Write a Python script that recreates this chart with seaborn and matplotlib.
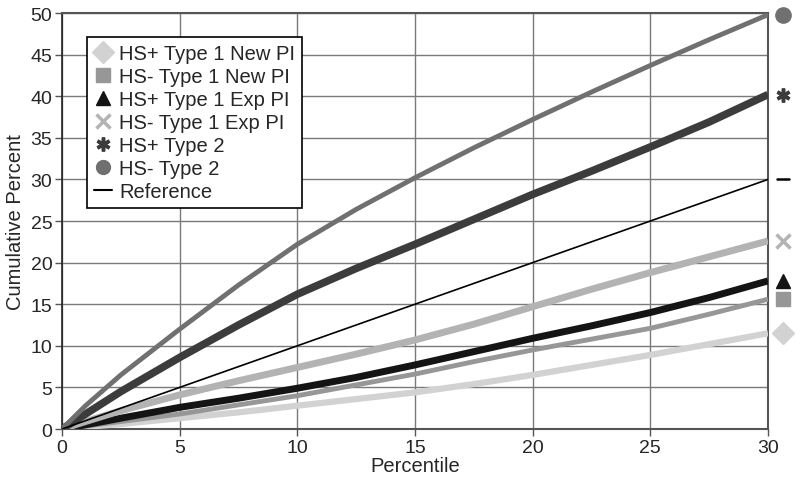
import pandas as pd
import seaborn as sns
import matplotlib.pyplot as plt
from matplotlib.lines import Line2D

# Curvas acumuladas
percentil = [0, 1, 2.5, 5, 7.5, 10, 12.5, 15, 17.5, 20, 22.5, 25, 27.5, 30]

hs_pos_t1_new = [0, 0.25, 0.6, 1.3, 2.0, 2.8, 3.6, 4.4, 5.4, 6.5, 7.7, 8.9, 10.2, 11.5]
hs_neg_t1_new = [0, 0.35, 0.9, 1.8, 2.9, 4.0, 5.3, 6.6, 8.1, 9.5, 10.8, 12.1, 13.8, 15.6]
hs_pos_t1_exp = [0, 0.5, 1.3, 2.6, 3.7, 4.9, 6.2, 7.7, 9.3, 10.9, 12.4, 14.0, 15.8, 17.8]
hs_neg_t1_exp = [0, 0.9, 2.2, 4.1, 5.8, 7.4, 9.0, 10.7, 12.6, 14.7, 16.8, 18.8, 20.7, 22.6]
hs_pos_t2 = [0, 1.8, 4.5, 8.6, 12.5, 16.2, 19.3, 22.2, 25.2, 28.2, 31.0, 33.9, 36.9, 40.2]
hs_neg_t2 = [0, 2.8, 6.5, 12.0, 17.3, 22.2, 26.4, 30.2, 33.8, 37.2, 40.5, 43.7, 46.8, 49.8]
referencia = [0, 1, 2.5, 5, 7.5, 10, 12.5, 15, 17.5, 20, 22.5, 25, 27.5, 30]

series = [
    # etiqueta, valores, color, grosor, marcador
    ('HS+ Type 1 New PI', hs_pos_t1_new, '#d2d2d2', 4.5, 'D'),
    ('HS- Type 1 New PI', hs_neg_t1_new, '#979797', 3.5, 's'),
    ('HS+ Type 1 Exp PI', hs_pos_t1_exp, '#141414', 5.0, '^'),
    ('HS- Type 1 Exp PI', hs_neg_t1_exp, '#b3b3b3', 5.0, 'x'),
    ('HS+ Type 2', hs_pos_t2, '#3c3c3c', 5.5, (6, 2, 0)),
    ('HS- Type 2', hs_neg_t2, '#707070', 3.5, 'o'),
]

sns.set_style('white')
plt.rcParams['font.family'] = ['Liberation Sans', 'DejaVu Sans']

fig = plt.figure(figsize=(8, 4.85), dpi=100)
ax = fig.add_axes([0.0775, 0.1134, 0.8825, 0.8577])

for nombre, vals, color, lw, mk in series:
    sns.lineplot(x=percentil, y=vals, color=color, linewidth=lw, ax=ax,
                 solid_capstyle='butt', zorder=3)
sns.lineplot(x=percentil, y=referencia, color='black', linewidth=1.2, ax=ax, zorder=4)

# marcadores al final de cada curva, fuera del area
x_fin = 30.65
for nombre, vals, color, lw, mk in series:
    ms = 11 if mk in ('D', 'o') else 10
    mew = 2.5 if mk in ('x', (6, 2, 0)) else 1
    ax.plot([x_fin], [vals[-1]], marker=mk, color=color, markersize=ms,
            markeredgewidth=mew, linestyle='none', clip_on=False)
ax.plot([x_fin - 0.25, x_fin + 0.25], [referencia[-1]] * 2, color='black',
        linewidth=1.8, clip_on=False)

ax.set_xlim(0, 30)
ax.set_ylim(0, 50)
ax.set_xticks(range(0, 31, 5))
ax.set_yticks(range(0, 51, 5))
ax.grid(True, color='#7a7a7a', linewidth=1)
ax.set_axisbelow(True)
ax.tick_params(axis='both', labelsize=14, length=5, width=1, color='#555555',
               direction='out', bottom=True, left=True, pad=2)
for lado in ['top', 'right', 'bottom']:
    ax.spines[lado].set_color('#555555')
    ax.spines[lado].set_linewidth(1.5)
ax.spines['left'].set_color('#222222')
ax.spines['left'].set_linewidth(1.2)

ax.set_xlabel('Percentile', fontsize=14.5, labelpad=0)
ax.set_ylabel('Cumulative Percent', fontsize=14.5, labelpad=4)

handles = []
for nombre, vals, color, lw, mk in series:
    mew = 2.5 if mk in ('x', (6, 2, 0)) else 1
    handles.append(Line2D([], [], marker=mk, color=color, linestyle='none',
                          markersize=11 if mk == 'D' else 10, markeredgewidth=mew,
                          label=nombre))
handles.append(Line2D([], [], color='black', linewidth=1.5, label='Reference'))

leg = ax.legend(handles=handles, loc='upper left', bbox_to_anchor=(0.035, 0.942),
                borderaxespad=0, fontsize=14.5, frameon=True, fancybox=False,
                edgecolor='black', handlelength=0.9, handletextpad=0.35,
                labelspacing=0.2, borderpad=0.35)
leg.get_frame().set_linewidth(1.2)
leg.get_frame().set_alpha(1)

plt.savefig('out.png', dpi=100)
